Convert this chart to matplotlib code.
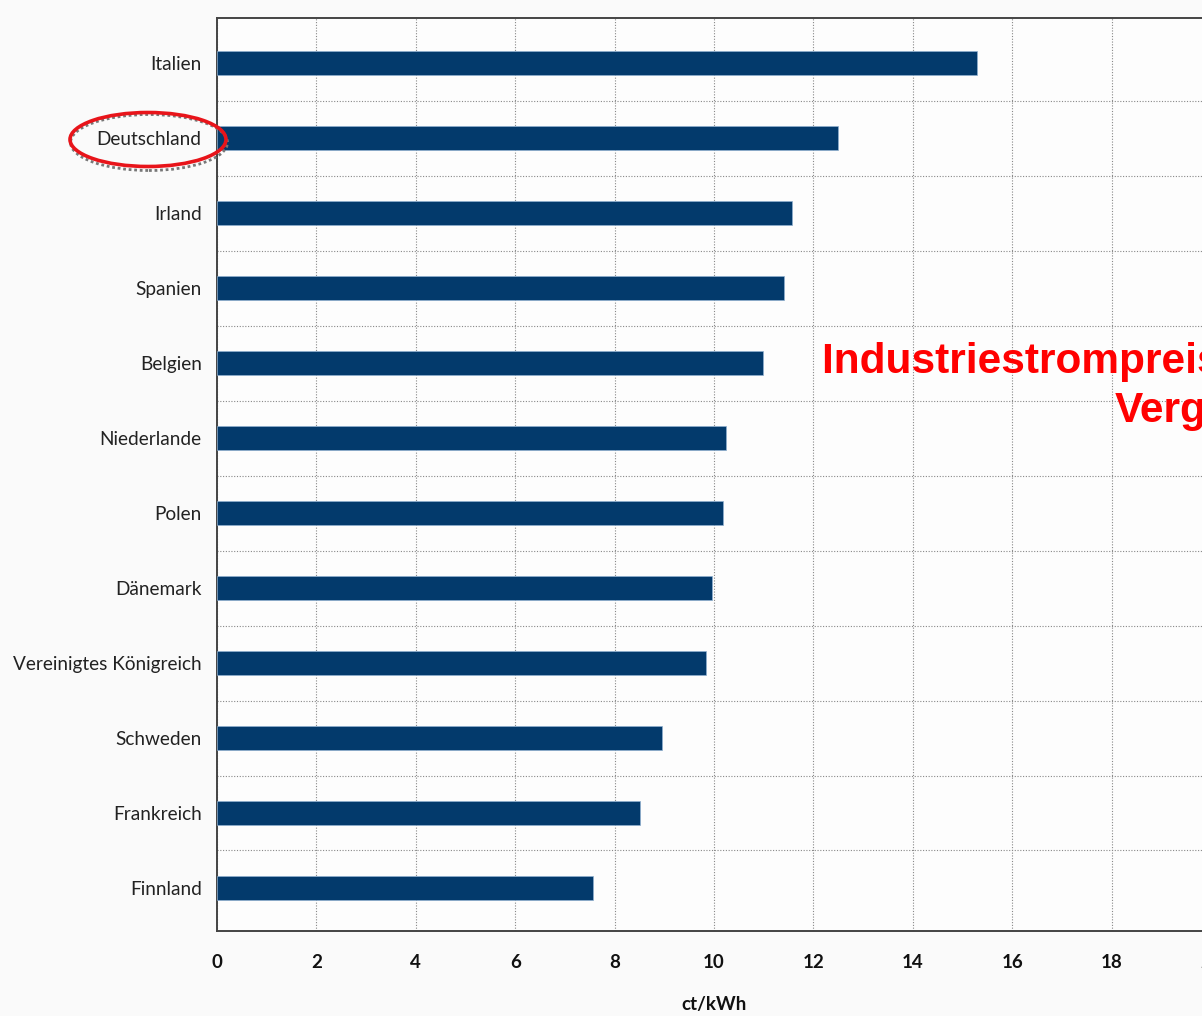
import matplotlib
matplotlib.use("Agg")
import matplotlib.pyplot as plt
from matplotlib.patches import Ellipse

# values (ct/kWh)
laender = ["Italien", "Deutschland", "Irland", "Spanien", "Belgien", "Niederlande",
           "Polen", "Dänemark", "Vereinigtes Königreich", "Schweden", "Frankreich", "Finnland"]
preise = [15.30, 12.49, 11.56, 11.40, 10.99, 10.25, 10.18, 9.95, 9.83, 8.95, 8.52, 7.57]
xticks = [0, 2, 4, 6, 8, 10, 12, 14, 16, 18, 20]

W, H = 1202, 1016
fig = plt.figure(figsize=(W / 100, H / 100), dpi=100, facecolor='#fafafa')

# axes runs past the right edge of the picture (chart is cropped there)
x0, x1 = 217, 217 + 20 * 49.7
y_top, y_bot = 18.3, 930.7
ax = fig.add_axes([x0 / W, 1 - y_bot / H, (x1 - x0) / W, (y_bot - y_top) / H])
ax.set_facecolor('#fdfdfd')

pos = list(range(len(laender)))
ax.barh(pos, preise, height=0.315, color='#033a6c', edgecolor='#8fb0d0', linewidth=0.5, zorder=3)

ax.set_xlim(0, 20)
ax.set_ylim(11.57, -0.60)
ax.set_xticks(xticks)
ax.set_xticklabels([str(t) for t in xticks], fontsize=13.5, fontweight='bold',
                   family='Lato', color='#111')
ax.set_yticks(pos)
ax.set_yticklabels(laender, fontsize=13.7, family='Lato', color='#222')
ax.set_yticks([p + 0.5 for p in pos[:-1]], minor=True)
ax.tick_params(axis='both', which='both', length=0)
ax.tick_params(axis='x', pad=17)
ax.tick_params(axis='y', pad=11)

ax.grid(axis='x', which='major', linestyle=(0, (1, 1.5)), color='#888', linewidth=0.8, zorder=0)
ax.grid(axis='y', which='minor', linestyle=(0, (1, 1.5)), color='#888', linewidth=0.8, zorder=0)
ax.grid(axis='y', which='major', visible=False)

for s in ax.spines.values():
    s.set_color('#444')
    s.set_linewidth(1.4)

ax.set_xlabel('ct/kWh', fontsize=13.5, fontweight='bold', family='Lato', color='#111', labelpad=18)

# red annotation text, partly cut by the right edge
fig.text(822 / W, 1 - 373 / H, 'Industriestrompreise im', color='#ff0000', fontsize=30.5,
         fontweight='bold', family='Liberation Sans', ha='left', va='baseline')
fig.text(1115 / W, 1 - 422 / H, 'Vergleich', color='#ff0000', fontsize=30.5,
         fontweight='bold', family='Liberation Sans', ha='left', va='baseline')

# red ellipse around Deutschland, with a dotted grey shadow
shadow = Ellipse((149 / W, 1 - 142.5 / H), 157 / W, 56 / H, transform=fig.transFigure,
                 fill=False, edgecolor='#777', linewidth=2.0, linestyle=(0, (1, 1)))
ring = Ellipse((148 / W, 1 - 139.5 / H), 156 / W, 54 / H, transform=fig.transFigure,
               fill=False, edgecolor='#e8141a', linewidth=2.6)
fig.patches.extend([shadow, ring])

fig.savefig('out.png', dpi=100, facecolor=fig.get_facecolor())
